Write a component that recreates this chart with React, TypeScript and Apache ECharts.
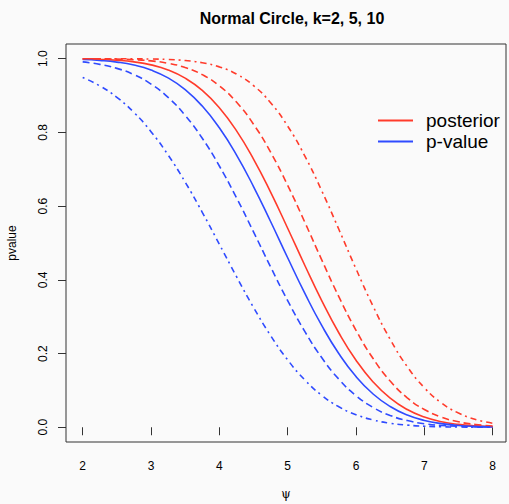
import React, { useEffect, useRef } from "react";
import * as echarts from "echarts";

const psi = [2.0, 2.25, 2.5, 2.75, 3.0, 3.25, 3.5, 3.75, 4.0, 4.25, 4.5, 4.75, 5.0, 5.25, 5.5, 5.75, 6.0, 6.25, 6.5, 6.75, 7.0, 7.25, 7.5, 7.75, 8.0];
const post2 = [0.9992, 0.9981, 0.9959, 0.9915, 0.9834, 0.9696, 0.9474, 0.9141, 0.867, 0.8049, 0.7278, 0.6381, 0.5401, 0.4397, 0.3431, 0.2558, 0.1819, 0.123, 0.079, 0.0481, 0.0277, 0.0151, 0.0078, 0.0038, 0.0017];
const post5 = [0.9999, 0.9996, 0.9989, 0.9974, 0.9941, 0.9877, 0.9762, 0.9568, 0.9265, 0.8824, 0.8224, 0.7464, 0.6564, 0.5567, 0.4536, 0.3537, 0.2632, 0.1864, 0.1253, 0.0799, 0.0482, 0.0275, 0.0148, 0.0075, 0.0036];
const post10 = [1.0, 1.0, 0.9999, 0.9997, 0.9992, 0.998, 0.9951, 0.9891, 0.9779, 0.9584, 0.9271, 0.8808, 0.8172, 0.7365, 0.6411, 0.5366, 0.4299, 0.3285, 0.2386, 0.1644, 0.1073, 0.0661, 0.0385, 0.0211, 0.0109];
const pv2 = [0.9978, 0.9954, 0.9909, 0.9828, 0.9693, 0.948, 0.9162, 0.8716, 0.8126, 0.7392, 0.6532, 0.5583, 0.4599, 0.3638, 0.2756, 0.1994, 0.1375, 0.0902, 0.0562, 0.0332, 0.0186, 0.0098, 0.0049, 0.0023, 0.001];
const pv5 = [0.9914, 0.9848, 0.9739, 0.9568, 0.9313, 0.8951, 0.8463, 0.7842, 0.709, 0.6231, 0.5302, 0.4352, 0.3436, 0.2602, 0.1884, 0.1303, 0.0858, 0.0538, 0.032, 0.0181, 0.0097, 0.0049, 0.0024, 0.0011, 0.0005];
const pv10 = [0.9492, 0.9264, 0.8953, 0.8543, 0.8022, 0.7389, 0.6652, 0.5834, 0.4967, 0.4092, 0.3253, 0.2489, 0.1828, 0.1286, 0.0865, 0.0555, 0.034, 0.0198, 0.011, 0.0058, 0.0029, 0.0014, 0.0006, 0.0003, 0.0001];
const xTicks = [2, 3, 4, 5, 6, 7, 8];
const yTicks = [0, 0.2, 0.4, 0.6, 0.8, 1.0];

const RED = "#ff3b2b";
const BLUE = "#2f4bff";
const FONT = "Liberation Sans";

function mk(name: string, vals: number[], color: string, dash: any) {
  return {
    type: "line",
    name,
    data: psi.map((p, i) => [p, vals[i]]),
    showSymbol: false,
    smooth: 0.5,
    color,
    itemStyle: { color },
    lineStyle: { color, width: 1.6, type: dash },
  };
}

export default function App() {
  const ref = useRef<HTMLDivElement>(null);
  useEffect(() => {
    const chart = echarts.init(ref.current!, null, { renderer: "svg" });
    chart.setOption({
      animation: false,
      backgroundColor: "#fafafa",
      title: {
        text: "Normal Circle, k=2, 5, 10",
        left: 287,
        top: 5,
        textAlign: "center",
        textStyle: { fontFamily: FONT, fontSize: 16, fontWeight: "bold", color: "#000" },
      },
      legend: {
        orient: "vertical",
        left: 373,
        top: 106,
        itemWidth: 35,
        itemHeight: 2,
        itemGap: 2,
        data: [
          { name: "posterior", icon: "rect" },
          { name: "p-value", icon: "rect" },
        ],
        textStyle: { fontFamily: FONT, fontSize: 19, color: "#000", padding: [0, 0, 0, 8] },
      },
      grid: {
        left: 66,
        right: 3,
        top: 44,
        bottom: 62,
        containLabel: false,
        outerBoundsMode: "none",
        show: true,
        borderColor: "#333",
        borderWidth: 1,
        backgroundColor: "transparent",
      },
      xAxis: {
        type: "value",
        min: 1.756,
        max: 8.195,
        name: "ψ",
        nameLocation: "middle",
        nameGap: 46,
        nameTextStyle: { fontFamily: "DejaVu Serif", fontSize: 12, color: "#000" },
        splitLine: { show: false },
        axisLine: { show: false },
        axisTick: { show: true, length: 8, lineStyle: { color: "#333" }, customValues: xTicks },
        axisLabel: { fontFamily: FONT, fontSize: 12, color: "#000", margin: 18, customValues: xTicks },
      },
      yAxis: {
        type: "value",
        min: -0.04,
        max: 1.04,
        name: "pvalue",
        nameLocation: "middle",
        nameGap: 48,
        nameRotate: 90,
        nameTextStyle: { fontFamily: FONT, fontSize: 12, color: "#000" },
        splitLine: { show: false },
        axisLine: { show: false },
        axisTick: { show: true, length: 8, lineStyle: { color: "#333" }, customValues: yTicks },
        axisLabel: {
          fontFamily: FONT,
          fontSize: 12,
          color: "#000",
          rotate: 90,
          margin: 17,
          customValues: yTicks,
          formatter: (v: number) => v.toFixed(1),
        },
      },
      series: [
        mk("posterior", post2, RED, "solid"),
        mk("p-value", pv2, BLUE, "solid"),
        mk("posterior", post5, RED, [7, 4]),
        mk("p-value", pv5, BLUE, [7, 4]),
        mk("posterior", post10, RED, [2, 4, 6, 4]),
        mk("p-value", pv10, BLUE, [2, 4, 6, 4]),
      ],
    });
    return () => chart.dispose();
  }, []);
  return <div ref={ref} style={{ position: "fixed", left: 0, top: 0, width: 509, height: 504 }} />;
}
